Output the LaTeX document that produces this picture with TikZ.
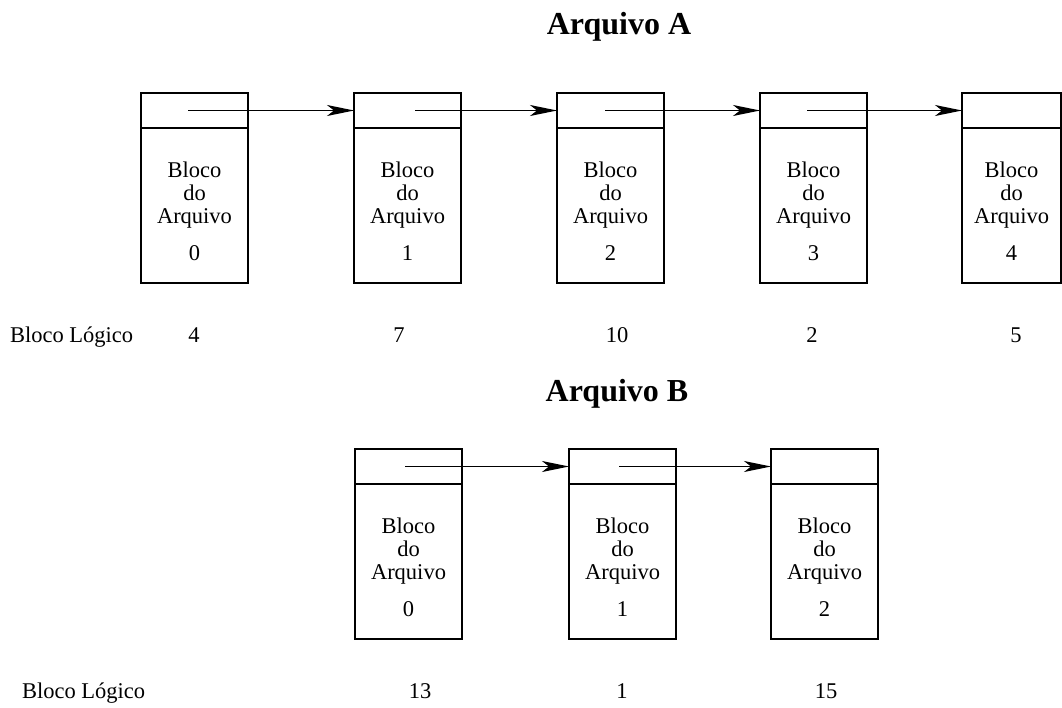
\documentclass[tikz,border=0pt]{standalone}
\usepackage{fontspec}
\setmainfont{Liberation Serif}
\usetikzlibrary{arrows.meta,positioning}

\begin{document}
\begin{tikzpicture}[
    x=1pt, y=-1pt,
    every node/.style={font=\fontsize{22.5}{23}\selectfont, inner sep=0pt, outer sep=0pt},
    ptrcell/.style={draw, line width=1.3pt, minimum width=107pt, minimum height=35pt, anchor=north west},
    blkcell/.style={draw, line width=1.3pt, minimum width=107pt, minimum height=155pt},
    blktext/.style={align=center, anchor=base},
    title/.style={font=\fontsize{32}{34}\selectfont\bfseries, anchor=base},
    link/.style={line width=1.2pt, -{Stealth[length=27pt, width=11pt, inset=7pt]}}
]
\useasboundingbox (0,0) rectangle (1062,707);

% Arquivo A
\node[title] (ta) at (619,34) {Arquivo A};
\foreach \i/\x/\w in {0/141/107, 1/354/107, 2/557/107, 3/760/107, 4/962/99} {
    \node[ptrcell, minimum width=\w pt] (a\i) at (\x,93) {};
    \node[blkcell, minimum width=\w pt, below=0pt of a\i] (ab\i) {};
    % base of a multi-line node sits on its last line
    \node[blktext] at ([yshift=-132pt]ab\i.north) {Bloco\\do\\Arquivo\\[14pt]\i};
}
\draw[link] ([xshift=47pt]a0.west) -- (a1.west);
\draw[link] ([xshift=61pt]a1.west) -- (a2.west);
\draw[link] ([xshift=48pt]a2.west) -- (a3.west);
\draw[link] ([xshift=47pt]a3.west) -- (a4.west);

\node[anchor=base west] (la) at (10,342) {Bloco Lógico};
\foreach \x/\n in {194/4, 399/7, 617/10, 812/2, 1016/5}
    \node[anchor=base] at (\x,342) {\n};

% Arquivo B
\node[title] (tb) at (617,401) {Arquivo B};
\foreach \i/\x in {0/355, 1/569, 2/771} {
    \node[ptrcell] (b\i) at (\x,449) {};
    \node[blkcell, below=0pt of b\i] (bb\i) {};
    \node[blktext] at ([yshift=-132pt]bb\i.north) {Bloco\\do\\Arquivo\\[14pt]\i};
}
\draw[link] ([xshift=50pt]b0.west) -- (b1.west);
\draw[link] ([xshift=50pt]b1.west) -- (b2.west);

\node[anchor=base west] (lb) at (22,698) {Bloco Lógico};
\foreach \x/\n in {420/13, 622/1, 826/15}
    \node[anchor=base] at (\x,698) {\n};
\end{tikzpicture}
\end{document}
